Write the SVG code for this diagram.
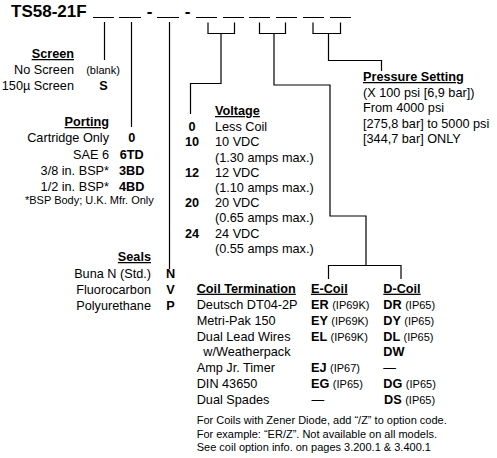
<svg xmlns="http://www.w3.org/2000/svg" width="497" height="458" viewBox="0 0 497 458">
<style>
text{font-family:"Liberation Sans",Arial,Helvetica,sans-serif;font-size:12.7px;fill:#000}
.t{font-size:17px;font-weight:bold}
.h{font-weight:bold;text-decoration:underline}
.b{font-weight:bold}
.s{font-size:11px;font-weight:normal}
.r{text-anchor:end}
.c{text-anchor:middle}
.ln{fill:none;stroke:#000;stroke-width:1.2}
</style>
<rect width="497" height="458" fill="#fff"/>
<g id="title">
<text class="t" x="11" y="17">TS58-21F</text>
<text class="t c" x="149.5" y="17">-</text>
<text class="t c" x="187.5" y="17">-</text>
<path class="ln" d="M93,17.5H114M119,17.5H141M157,17.5H179M196,17.5H217M223,17.5H244M249,17.5H270M276,17.5H297M303,17.5H324M330,17.5H351"/>
</g>
<g id="connectors">
<path class="ln" d="M104.5,22V60"/>
<path class="ln" d="M131.5,22V127"/>
<path class="ln" d="M169.5,22V269"/>
<path class="ln" d="M208,22.5V33.5H234.5V22.5M221,33.5V83.5H190.5V114"/>
<path class="ln" d="M259.5,22.5V33.5H285.5V22.5M274,33.5V85H330V216H366V265"/>
<path class="ln" d="M328.5,279V265.5H401V279"/>
<path class="ln" d="M313,22.5V33.5H340.5V22.5M328.5,33.5V60.5H381.5V71"/>
</g>
<g id="screen">
<text class="h r" x="74" y="58">Screen</text>
<text class="r" x="74" y="74">No Screen</text>
<text class="s c" x="103" y="74">(blank)</text>
<text class="r" x="74" y="90">150µ Screen</text>
<text class="b c" x="103.5" y="90">S</text>
</g>
<g id="porting">
<text class="h r" x="109" y="126">Porting</text>
<text class="r" x="109" y="142">Cartridge Only</text>
<text class="b c" x="131.7" y="142">0</text>
<text class="r" x="109" y="158.5">SAE 6</text>
<text class="b c" x="131.7" y="158.5">6TD</text>
<text class="r" x="109" y="175">3/8 in. BSP*</text>
<text class="b c" x="131.7" y="175">3BD</text>
<text class="r" x="109" y="191">1/2 in. BSP*</text>
<text class="b c" x="131.7" y="191">4BD</text>
<text class="s" x="25" y="203.5">*BSP Body; U.K. Mfr. Only</text>
</g>
<g id="seals">
<text class="h r" x="151" y="261">Seals</text>
<text class="r" x="151" y="277.5">Buna N (Std.)</text>
<text class="b c" x="170.5" y="277.5">N</text>
<text class="r" x="151" y="293.5">Fluorocarbon</text>
<text class="b c" x="170.5" y="293.5">V</text>
<text class="r" x="151" y="309.5">Polyurethane</text>
<text class="b c" x="170.5" y="309.5">P</text>
</g>
<g id="voltage">
<text class="h" x="215" y="115">Voltage</text>
<text class="b c" x="192" y="130.5">0</text>
<text x="215" y="130.5">Less Coil</text>
<text class="b c" x="192" y="146">10</text>
<text x="215" y="146">10 VDC</text>
<text x="215" y="161.5">(1.30 amps max.)</text>
<text class="b c" x="192" y="176.5">12</text>
<text x="215" y="176.5">12 VDC</text>
<text x="215" y="191.8">(1.10 amps max.)</text>
<text class="b c" x="192" y="207.2">20</text>
<text x="215" y="207.2">20 VDC</text>
<text x="215" y="222">(0.65 amps max.)</text>
<text class="b c" x="192" y="237.5">24</text>
<text x="215" y="237.5">24 VDC</text>
<text x="215" y="253">(0.55 amps max.)</text>
</g>
<g id="pressure">
<text class="h" x="363" y="81">Pressure Setting</text>
<text x="363" y="96.7">(X 100 psi [6,9 bar])</text>
<text x="363" y="112.3">From 4000 psi</text>
<text x="363" y="127.7">[275,8 bar] to 5000 psi</text>
<text x="363" y="143.2">[344,7 bar] ONLY</text>
</g>
<g id="coil">
<text class="h" x="196.7" y="292.7">Coil Termination</text>
<text class="h" x="311" y="292.7">E-Coil</text>
<text class="h" x="383.3" y="292.7">D-Coil</text>
<text x="196.7" y="309">Deutsch DT04-2P</text>
<text class="b" x="311" y="309">ER <tspan class="s">(IP69K)</tspan></text>
<text class="b" x="383.3" y="309">DR <tspan class="s">(IP65)</tspan></text>
<text x="196.7" y="325">Metri-Pak 150</text>
<text class="b" x="311" y="325">EY <tspan class="s">(IP69K)</tspan></text>
<text class="b" x="383.3" y="325">DY <tspan class="s">(IP65)</tspan></text>
<text x="196.7" y="340.7">Dual Lead Wires</text>
<text class="b" x="311" y="340.7">EL <tspan class="s">(IP69K)</tspan></text>
<text class="b" x="383.3" y="340.7">DL <tspan class="s">(IP65)</tspan></text>
<text x="203.3" y="356.3">w/Weatherpack</text>
<text class="b" x="383.3" y="356.3">DW</text>
<text x="196.7" y="372.3">Amp Jr. Timer</text>
<text class="b" x="311" y="372.3">EJ <tspan class="s">(IP67)</tspan></text>
<text x="383.3" y="372.3">—</text>
<text x="196.7" y="388.3">DIN 43650</text>
<text class="b" x="311" y="388.3">EG <tspan class="s">(IP65)</tspan></text>
<text class="b" x="383.3" y="388.3">DG <tspan class="s">(IP65)</tspan></text>
<text x="196.7" y="404">Dual Spades</text>
<text x="311.5" y="404">—</text>
<text class="b" x="384" y="404">DS <tspan class="s">(IP65)</tspan></text>
<text class="s" x="196.7" y="424">For Coils with Zener Diode, add “/Z” to option code.</text>
<text class="s" x="196.7" y="438.3">For example: “ER/Z”. Not available on all models.</text>
<text class="s" x="196.7" y="450.7">See coil option info. on pages 3.200.1 &amp; 3.400.1</text>
</g>
</svg>
